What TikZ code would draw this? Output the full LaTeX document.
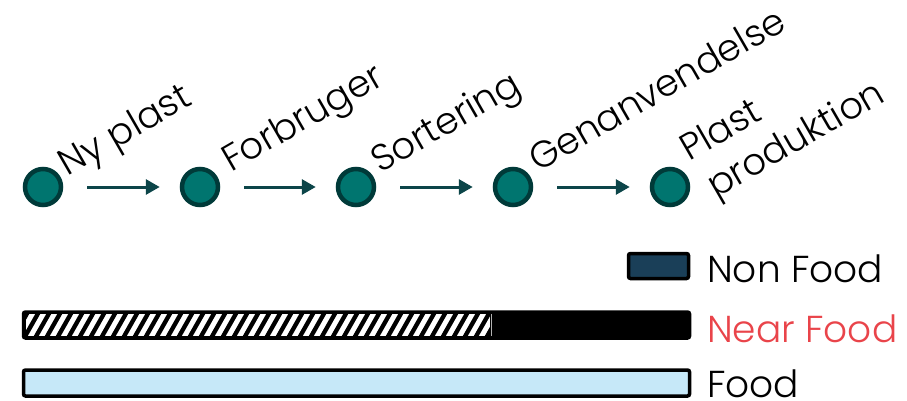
\documentclass[tikz,border=0pt]{standalone}
\usepackage{fontspec}
\setmainfont{Poppins}[UprightFont=* Light]
\usetikzlibrary{arrows.meta,calc}

\definecolor{stagefill}{HTML}{00756F}
\definecolor{stageline}{HTML}{003A39}
\definecolor{flowcol}{HTML}{0C4549}
\definecolor{nonfood}{HTML}{1A3F58}
\definecolor{foodfill}{HTML}{C6E8F8}
\definecolor{nearred}{HTML}{E9444A}

\tikzset{
  stage/.style={circle, draw=stageline, fill=stagefill, line width=4.5pt,
    minimum size=36pt, inner sep=0pt},
  flow/.style={draw=flowcol, line width=3pt,
    -{Triangle[length=14pt,width=15pt]},
    shorten <=24pt, shorten >=20pt},
  steplabel/.style={rotate=30, anchor=base west, inner sep=0pt,
    font=\fontsize{37}{44}\selectfont},
  legendtext/.style={anchor=base west, inner sep=0pt,
    font=\fontsize{37.5}{45}\selectfont},
  barbox/.style={draw=black, line width=3.5pt, rounded corners=2pt,
    inner sep=0pt},
  stripe/.style={line width=4.3pt, black}
}

\begin{document}
\begin{tikzpicture}[x=1pt,y=-1pt]
\useasboundingbox (0,0) rectangle (907,401);

% process stages
\node[stage] (s1) at (43,187) {};
\node[stage] (s2) at (200,187) {};
\node[stage] (s3) at (356,187) {};
\node[stage] (s4) at (513,187) {};
\node[stage] (s5) at (670,187) {};

% arrows between stages
\draw[flow] (s1) -- (s2);
\draw[flow] (s2) -- (s3);
\draw[flow] (s3) -- (s4);
\draw[flow] (s4) -- (s5);

% slanted stage names
\node[steplabel] (l1) at ($(s1)+(24,-10)$) {Ny plast};
\node[steplabel] (l2) at ($(s2)+(31,-14)$) {Forbruger};
\node[steplabel] (l3) at ($(s3)+(24,-13)$) {Sortering};
\node[steplabel] (l4) at ($(s4)+(25,-14)$) {Genanvendelse};
\node[steplabel] (l5a) at ($(s5)+(19,-25)$) {Plast};
\node[steplabel] (l5b) at ($(s5)+(46,12)$) {produktion};

% legend swatch: non food
\node[barbox, fill=nonfood, minimum width=60pt, minimum height=25pt]
  (nonbox) at (658.5,266) {};

% near food bar: hatched part followed by solid black
\node[barbox, fill=black, minimum width=666pt, minimum height=26pt]
  (nearbar) at (356.5,325) {};
\begin{scope}
  \clip (26,314) rectangle (490,336);
  \fill[white] (26,314) rectangle (490,336);
  \foreach \x in {-10,1,...,500}
    \draw[stripe] (\x,340) -- (\x+17,310);
\end{scope}
\draw[gray!60, line width=0.8pt] (491,314) -- (491,336);

% food bar
\node[barbox, fill=foodfill, minimum width=666pt, minimum height=26pt]
  (foodbar) at (356.5,383) {};

% legend texts
\node[legendtext] (tnon) at (707,282) {Non Food};
\node[legendtext, text=nearred] (tnear) at (707,342) {Near Food};
\node[legendtext] (tfood) at (707,397) {Food};
\end{tikzpicture}
\end{document}
